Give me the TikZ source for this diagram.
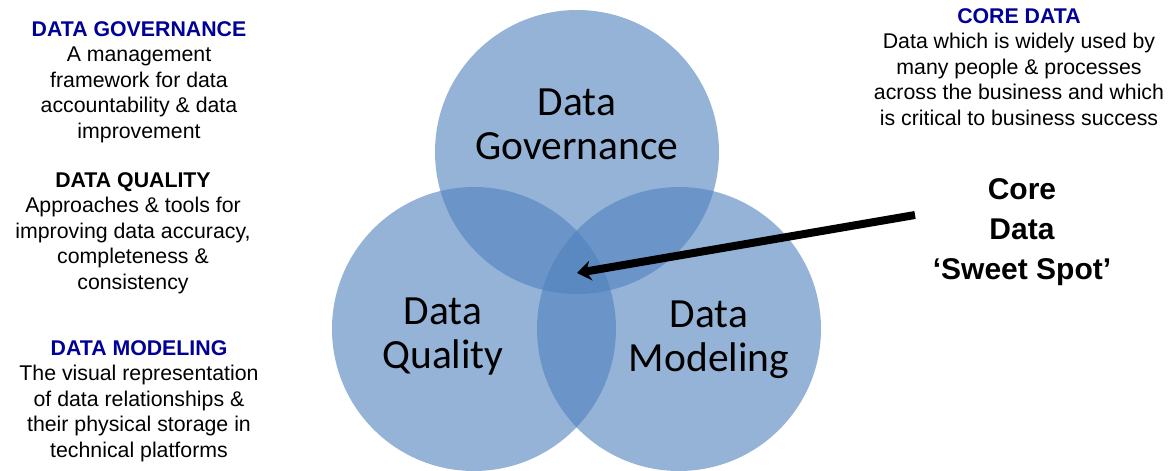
\documentclass[tikz,border=0pt]{standalone}
\usepackage{fontspec}
\setmainfont{Liberation Sans}
\newfontfamily\vennfont{Carlito}
\usetikzlibrary{arrows.meta}
\definecolor{vennblue}{RGB}{79,129,189}
\definecolor{headblue}{RGB}{0,0,150}

\begin{document}
\begin{tikzpicture}[x=1pt,y=-1pt,
  venn/.style={fill=vennblue,fill opacity=0.6},
  vlabel/.style={align=center,font=\vennfont\fontsize{41.5}{44}\selectfont},
  note/.style={align=center,font=\fontsize{21.3}{25.5}\selectfont},
  spot/.style={align=center,font=\bfseries\fontsize{30}{40}\selectfont}]
\useasboundingbox (0,0) rectangle (1173,471);
\coordinate (gov) at (577,152);
\coordinate (qual) at (474,329);
\coordinate (model) at (679,329);
\fill[venn] (gov) circle[radius=142pt];
\fill[venn] (qual) circle[radius=142pt];
\fill[venn] (model) circle[radius=142pt];
\node[vlabel] (govlabel) at (577,124) {Data\\Governance};
\node[vlabel] (quallabel) at (443,337) {Data\\Quality};
\node[vlabel] (modellabel) at (709,340) {Data\\Modeling};
% texts at the side
\node[note] (govnote) at (139,82) {\textbf{\color{headblue}DATA GOVERNANCE}\\
A management\\framework for data\\accountability \& data\\improvement};
\node[note] (qualnote) at (133,233) {\textbf{DATA QUALITY}\\
Approaches \& tools for\\improving data accuracy,\\completeness \&\\consistency};
\node[note] (modelnote) at (139,401) {\textbf{\color{headblue}DATA MODELING}\\
The visual representation\\of data relationships \&\\their physical storage in\\technical platforms};
\node[note] (corenote) at (1019,67) {\textbf{\color{headblue}CORE DATA}\\
Data which is widely used by\\many people \& processes\\across the business and which\\is critical to business success};
\node[spot] (sweetspot) at (1022,232) {Core\\Data\\‘Sweet Spot’};
\coordinate (tail) at (915,215);
\coordinate (tip) at (577,273);
\draw[line width=8pt,-{Stealth[length=14pt,width=20pt]}] (tail) -- (tip);
\end{tikzpicture}
\end{document}
